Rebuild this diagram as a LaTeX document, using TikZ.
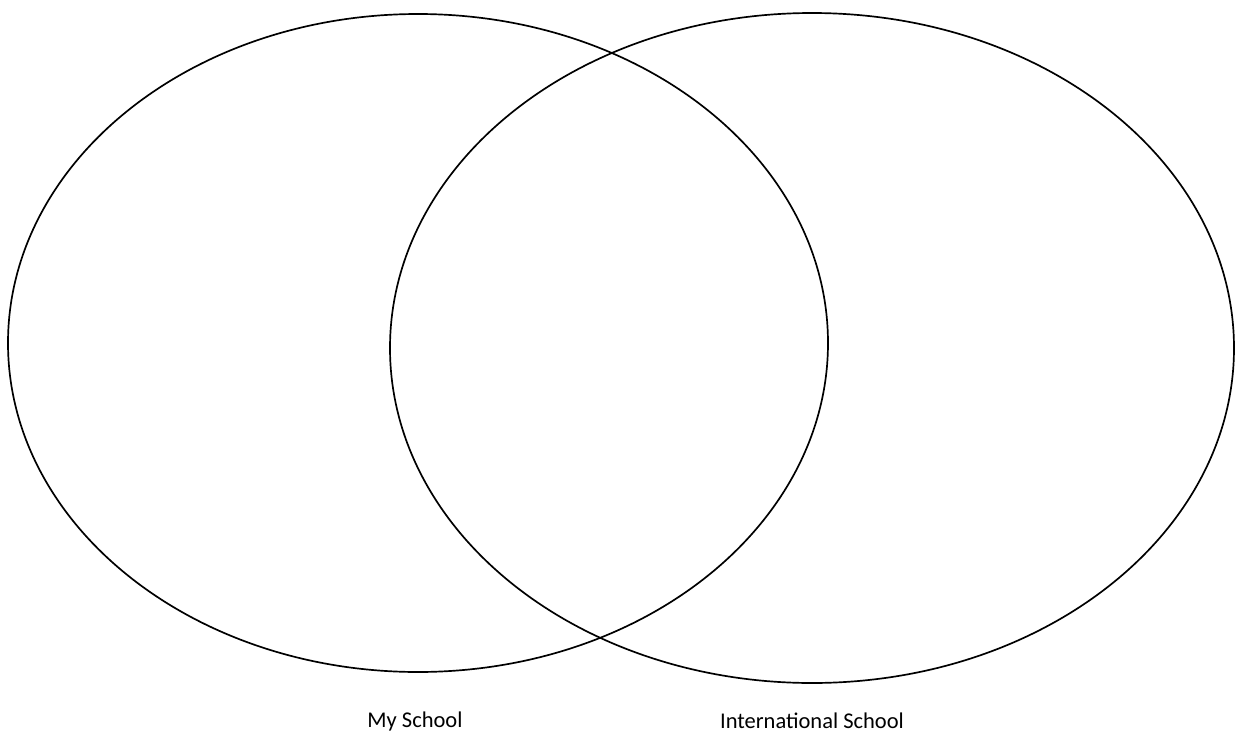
\documentclass[tikz,border=0pt]{standalone}
\usepackage{fontspec}
\setmainfont{Carlito}
\usepackage{tikz}
\usetikzlibrary{positioning}
\usepackage{xcolor}

\begin{document}
\begin{tikzpicture}[x=0.025cm, y=-0.025cm]
          \useasboundingbox (0,0) rectangle (1239,751);
          \draw[line width=1.2pt] (418,343) ellipse (410 and 329);
          \draw[line width=1.2pt] (812,348) ellipse (422 and 335);
          \node[font=\fontsize{16}{19}\selectfont] (myschool) at (415,721)
            {My School};
          \node[font=\fontsize{16}{19}\selectfont] (intschool) at (812,721)
            {International School};
        \end{tikzpicture}
\end{document}
